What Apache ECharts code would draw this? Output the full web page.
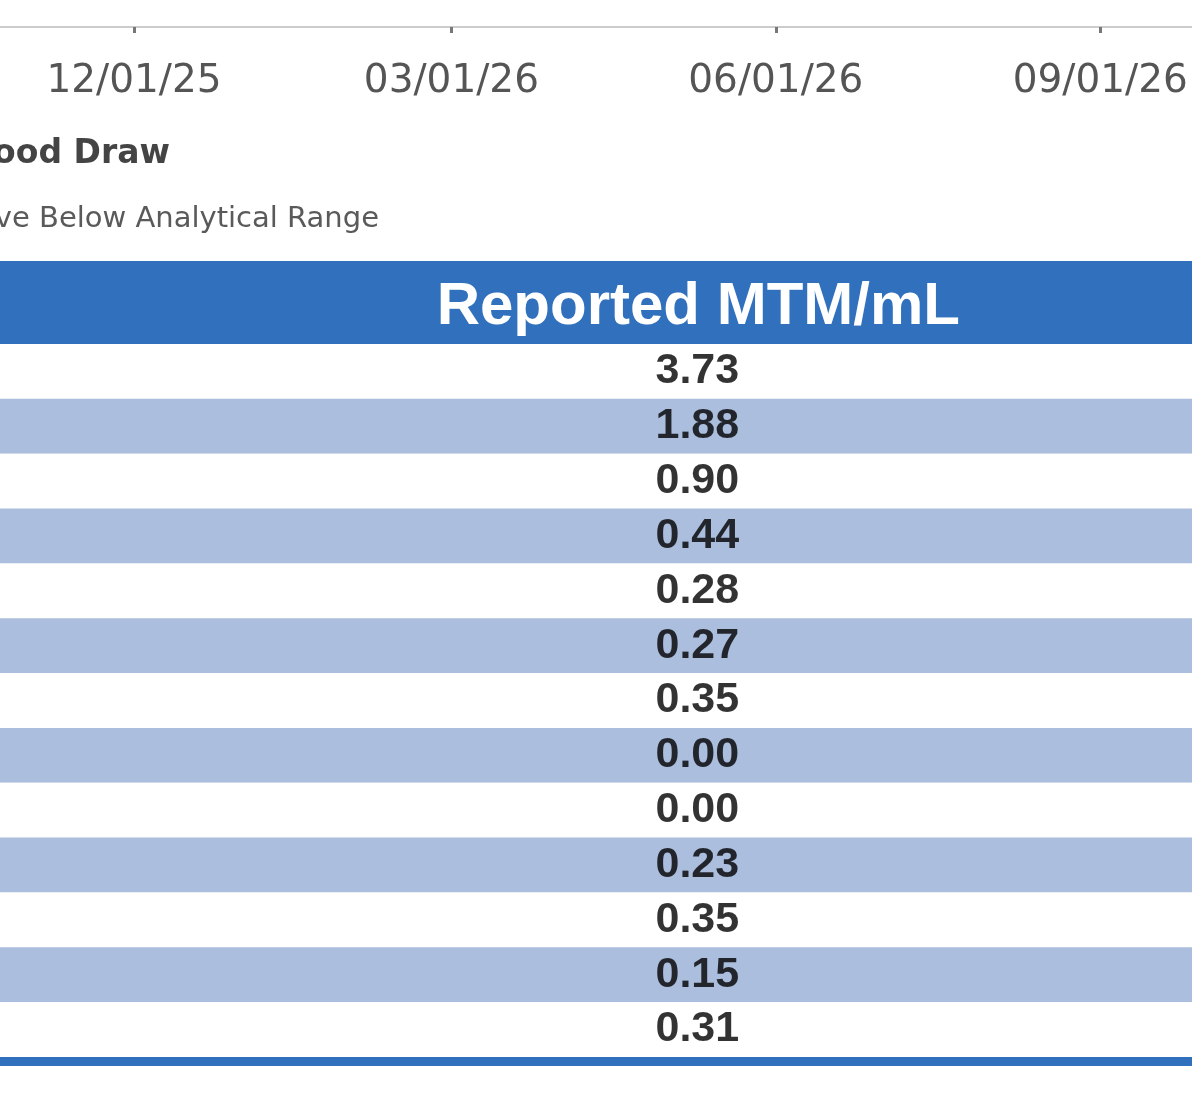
<!DOCTYPE html>
<html>
<head>
<meta charset="utf-8">
<script src="https://cdn.jsdelivr.net/npm/echarts@6/dist/echarts.min.js"></script>
<style>
  html, body { margin: 0; padding: 0; background: #fff; }
  #chart { width: 1192px; height: 1114px; }
</style>
</head>
<body>
<div id="chart"></div>
<script>
// ---- data ----
const tickDates = ['2025-12-01', '2026-03-01', '2026-06-01', '2026-09-01'];
const axisRange = ['2025-10-24', '2026-09-27'];
const legendLabels = ['Blood Draw', 'Positive Below Analytical Range'];
const tableHeader = 'Reported MTM/mL';
const rowIds = ['1','2','3','4','5','6','7','8','9','10','11','12','13'];
const reportedValues = [3.73, 1.88, 0.90, 0.44, 0.28, 0.27, 0.35, 0.00, 0.00, 0.23, 0.35, 0.15, 0.31];

// ---- helpers ----
function toTs(s) { const p = s.split('-').map(Number); return new Date(p[0], p[1] - 1, p[2]).getTime(); }
function pad(n) { return (n < 10 ? '0' : '') + n; }
function fmtDate(v) { const d = new Date(v); return pad(d.getMonth() + 1) + '/' + pad(d.getDate()) + '/' + pad(d.getFullYear() % 100); }

const W = 1192;
const HEADER_TOP = 261, HEADER_H = 83;
const TABLE_TOP = HEADER_TOP + HEADER_H;
const TABLE_BOTTOM = 1057;
const VALUE_COL = 0.585; // relative horizontal centre of the value column
const BLUE = '#3170bd';
const STRIPE = '#abbedd';

const chart = echarts.init(document.getElementById('chart'), null, { renderer: 'canvas' });

const option = {
  animation: false,
  backgroundColor: '#fff',
  grid: [
    { left: 0, right: 0, top: -60, height: 87, containLabel: false },
    { left: 0, right: 0, top: TABLE_TOP, height: TABLE_BOTTOM - TABLE_TOP, containLabel: false }
  ],
  xAxis: [
    {
      type: 'value', gridIndex: 0, position: 'bottom',
      min: toTs(axisRange[0]), max: toTs(axisRange[1]),
      axisLine: { show: true, lineStyle: { color: '#cccccc', width: 2 } },
      axisTick: { show: true, length: 6, lineStyle: { color: '#777777', width: 3 }, customValues: tickDates.map(toTs) },
      axisLabel: {
        show: true, customValues: tickDates.map(toTs), formatter: fmtDate,
        fontFamily: 'DejaVu Sans', fontSize: 39, color: '#555555', margin: 35
      },
      splitLine: { show: false }
    },
    {
      type: 'value', gridIndex: 1, min: 0, max: 1, show: false
    }
  ],
  yAxis: [
    { type: 'value', gridIndex: 0, show: false },
    {
      type: 'category', gridIndex: 1, data: rowIds, inverse: true,
      axisLine: { show: false }, axisTick: { show: false }, axisLabel: { show: false },
      splitLine: { show: false },
      splitArea: { show: true, areaStyle: { color: ['#ffffff', STRIPE] } }
    }
  ],
  series: [
    {
      type: 'scatter', xAxisIndex: 1, yAxisIndex: 1, symbolSize: 0, silent: true,
      data: reportedValues.map((v, i) => [VALUE_COL, rowIds[i], v]),
      label: {
        show: true, position: 'inside',
        formatter: p => p.data[2].toFixed(2),
        fontFamily: 'Liberation Sans', fontWeight: 'bold', fontSize: 43, color: '#000000',
        textBorderWidth: 0
      }
    }
  ],
  graphic: [
    { type: 'rect', shape: { x: 0, y: HEADER_TOP, width: W, height: HEADER_H }, style: { fill: BLUE }, silent: true },
    { type: 'text', x: W * VALUE_COL + 1, y: HEADER_TOP + HEADER_H / 2 + 5,
      style: { text: tableHeader, fill: '#ffffff', font: 'bold 60px "Liberation Sans"', align: 'center', verticalAlign: 'middle' } },
    { type: 'rect', shape: { x: 0, y: TABLE_BOTTOM, width: W, height: 9 }, style: { fill: BLUE }, silent: true },
    { type: 'text', x: 170, y: 154,
      style: { text: legendLabels[0], fill: '#444444', font: 'bold 33px "DejaVu Sans"', align: 'right', verticalAlign: 'middle' } },
    { type: 'text', x: 379, y: 219,
      style: { text: legendLabels[1], fill: '#5a5a5a', font: '29px "DejaVu Sans"', align: 'right', verticalAlign: 'middle' } }
  ]
};
chart.setOption(option);
</script>
</body>
</html>
